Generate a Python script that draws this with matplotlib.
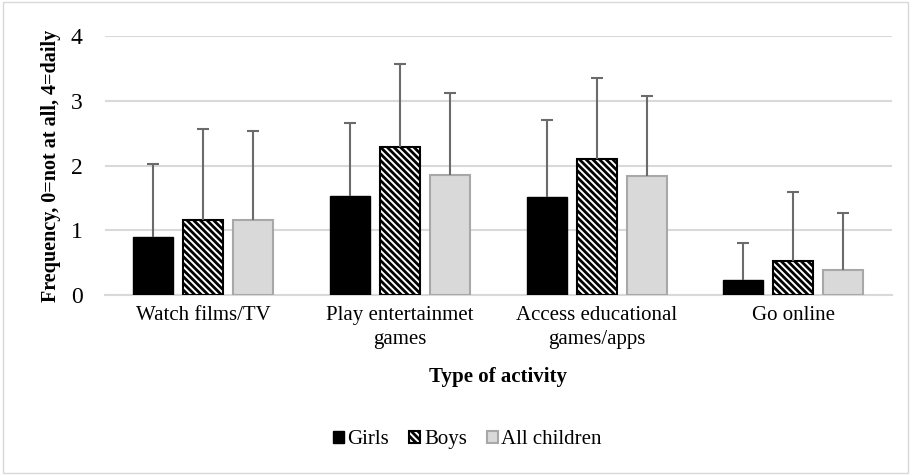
import numpy as np
import matplotlib
matplotlib.use("Agg")
import matplotlib.pyplot as plt
from matplotlib.patches import Rectangle

# Mean frequency per activity (0=not at all, 4=daily) with SD
activities = ["Watch films/TV", "Play entertainmet\ngames", "Access educational\ngames/apps", "Go online"]
girls = [0.90, 1.53, 1.52, 0.23]
boys = [1.16, 2.29, 2.10, 0.52]
all_children = [1.16, 1.85, 1.84, 0.39]
girls_sd = [1.12, 1.12, 1.18, 0.58]
boys_sd = [1.40, 1.27, 1.25, 1.07]
all_sd = [1.37, 1.27, 1.24, 0.87]

plt.rcParams["font.family"] = ["Liberation Serif", "DejaVu Serif"]
plt.rcParams["hatch.linewidth"] = 2.0

fig = plt.figure(figsize=(9.11, 4.75), dpi=100)
ax = fig.add_axes([0.1153, 0.3789, 0.8634, 0.5453])

x = np.arange(len(activities))
w = 0.203
step = 0.254
err_color = "#6b6b6b"

series = [
    (girls, girls_sd, dict(color="black", edgecolor="black", linewidth=1.0), "Girls"),
    (boys, boys_sd, dict(color="white", edgecolor="black", hatch="\\\\\\\\\\", linewidth=1.5), "Boys"),
    (all_children, all_sd, dict(color="#d9d9d9", edgecolor="#a8a8a8", linewidth=1.5), "All children"),
]
for i, (vals, sd, style, lab) in enumerate(series):
    xs = x + (i - 1) * step
    vals = np.array(vals)
    tops = vals + np.array(sd)
    ax.bar(xs, vals, w, label=lab, zorder=3, **style)
    # upper error bar only: stem plus flat cap
    ax.vlines(xs, vals, tops, color=err_color, linewidth=1.5, zorder=4)
    ax.plot(xs, tops, linestyle="none", marker="_", markersize=9, markeredgewidth=1.5,
            color=err_color, zorder=4)

ax.set_xlim(-0.5, len(activities) - 0.5)
ax.set_ylim(0, 4)
ax.set_yticks([0, 1, 2, 3, 4])
ax.yaxis.grid(True, color="#d9d9d9", linewidth=1.5, zorder=0)
ax.set_axisbelow(True)
for s in ["top", "right", "left"]:
    ax.spines[s].set_visible(False)
ax.spines["bottom"].set_color("#d9d9d9")
ax.spines["bottom"].set_linewidth(1.5)
ax.tick_params(axis="both", length=0, labelsize=15)
ax.tick_params(axis="y", pad=16, labelsize=17)
ax.tick_params(axis="x", pad=8)
ax.set_xticks(x)
ax.set_xticklabels(activities, linespacing=1.35)

ax.set_xlabel("Type of activity", fontsize=15, fontweight="bold", labelpad=13)
ax.set_ylabel("Frequency, 0=not at all, 4=daily", fontsize=14.5, fontweight="bold", labelpad=7)

fig.legend(loc="center", bbox_to_anchor=(0.513, 0.074), ncol=3, frameon=False, fontsize=15,
           handlelength=0.53, handleheight=0.53, handletextpad=0.18, columnspacing=0.95)

# light border round the chart area
fig.patches.append(Rectangle((0.003, 0.005), 0.994, 0.99, transform=fig.transFigure,
                             fill=False, edgecolor="#d9d9d9", linewidth=1.0))

fig.savefig("out.png", dpi=100)
